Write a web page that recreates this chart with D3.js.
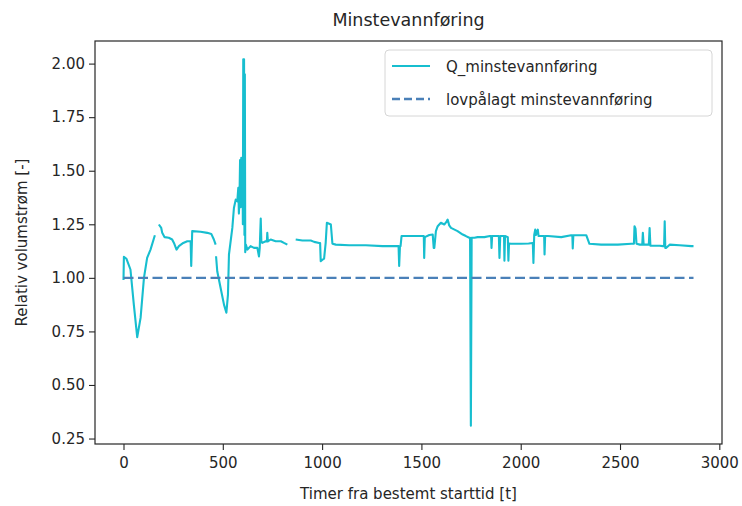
<!DOCTYPE html>
<html>
<head>
<meta charset="utf-8">
<script src="https://cdn.jsdelivr.net/npm/d3@7"></script>
<style>
  body { margin: 0; background: #fff; }
  svg { font-family: "DejaVu Sans", sans-serif; }
</style>
</head>
<body>
<svg id="chart" width="742" height="506"></svg>
<script>
// ---- data ----
const title = "Minstevannføring";
const xLabel = "Timer fra bestemt starttid [t]";
const yLabel = "Relativ volumstrøm [-]";
const seriesNames = ["Q_minstevannføring", "lovpålagt minstevannføring"];
const xTicks = [0, 500, 1000, 1500, 2000, 2500, 3000];
const yTicks = [0.25, 0.50, 0.75, 1.00, 1.25, 1.50, 1.75, 2.00];

// hours (null value = gap in the measured series)
const hours = [
  0, 2, 15, 35, 52, 69, 86, 103, 119, 136, 158, 168,
  178, 190, 195, 207, 228, 245, 254, 267, 279, 301, 321, 338, 341, 346, 388, 422, 442, 455, 464, 465,
  466, 472, 489, 506, 518, 526, 531, 548, 556, 565, 573, 578, 581, 584, 587, 590, 593, 596, 599, 601,
  603, 605, 607, 609, 611, 613, 616, 624, 640, 657, 674, 682, 686, 691, 694, 699, 716, 722, 724, 727,
  741, 766, 792, 808, 825, 846,
  867, 901, 943, 960, 985, 990, 993, 1002, 1010, 1018, 1024, 1044, 1052, 1069, 1136, 1220, 1304, 1371,
  1385, 1388, 1392, 1395, 1400, 1447, 1498, 1512, 1514, 1517, 1540, 1557, 1562, 1565, 1573, 1582, 1598,
  1615, 1625, 1632, 1640, 1649, 1682, 1708, 1724, 1741, 1745, 1749, 1753, 1767, 1783, 1817, 1845, 1851,
  1853, 1856, 1884, 1890, 1893, 1897, 1910, 1916, 1918, 1921, 1935, 1938, 1941, 1951, 2002, 2040, 2061,
  2064, 2068, 2073, 2077, 2086, 2090, 2103, 2118, 2120, 2123, 2137, 2204, 2254, 2260, 2262, 2265, 2330,
  2346, 2405, 2489, 2557, 2570, 2573, 2578, 2583, 2600, 2612, 2615, 2619, 2630, 2645, 2649, 2653, 2700,
  2716, 2722, 2725, 2728, 2733, 2750, 2800, 2859, 2870
];
const qValues = [
  0.99, 1.098, 1.089, 1.039, 0.875, 0.723, 0.813, 1.0, 1.093, 1.132, 1.199, null,
  1.249, 1.233, 1.21, 1.19, 1.187, 1.179, 1.163, 1.132, 1.148, 1.163, 1.171, 1.171, 1.055, 1.218, 1.215, 1.21, 1.205, 1.179, 1.155, null,
  1.101, 1.031, 0.953, 0.875, 0.837, 0.922, 1.109, 1.233, 1.326, 1.365, 1.357, 1.42, 1.30, 1.37, 1.55, 1.33, 1.56, 1.38, 1.55, 1.25,
  2.02, 1.50, 2.02, 1.20, 1.95, 1.12, 1.155, 1.132, 1.148, 1.14, 1.14, 1.10, 1.14, 1.277, 1.17, 1.163, 1.171, 1.17, 1.21, 1.17,
  1.179, 1.171, 1.171, 1.163, 1.155, null,
  1.179, 1.174, 1.174, 1.168, 1.163, 1.163, 1.078, 1.085, 1.09, 1.163, 1.257, 1.249, 1.159, 1.155, 1.152, 1.152, 1.148, 1.148,
  1.148, 1.055, 1.148, 1.148, 1.195, 1.195, 1.195, 1.195, 1.093, 1.19, 1.2, 1.202, 1.14, 1.14, 1.218, 1.241, 1.257,
  1.249, 1.26, 1.272, 1.245, 1.233, 1.218, 1.202, 1.195, 1.187, 1.187, 0.31, 1.187, 1.187, 1.19, 1.19, 1.195, 1.195,
  1.14, 1.195, 1.195, 1.195, 1.093, 1.195, 1.195, 1.195, 1.08, 1.195, 1.19, 1.08, 1.16, 1.159, 1.159, 1.16, 1.163,
  1.07, 1.20, 1.225, 1.2, 1.225, 1.195, 1.195, 1.195, 1.109, 1.195, 1.195, 1.19, 1.199, 1.199, 1.137, 1.199, 1.199,
  1.159, 1.155, 1.155, 1.159, 1.159, 1.241, 1.23, 1.159, 1.155, 1.155, 1.21, 1.155, 1.155, 1.155, 1.233, 1.15, 1.15,
  1.148, 1.148, 1.264, 1.14, 1.14, 1.155, 1.152, 1.148, 1.148
];
const requiredHours = [0, 2870];
const requiredValues = [1.0, 1.0];

// ---- layout ----
const svg = d3.select("#chart");
const margin = { left: 95, right: 20, top: 41, bottom: 62 };
const W = 742, H = 506;
const plotW = W - margin.left - margin.right;
const plotH = H - margin.top - margin.bottom;

const allX = hours.concat(requiredHours);
const allY = qValues.filter(v => v != null).concat(requiredValues);
const [xmin, xmax] = d3.extent(allX);
const [ymin, ymax] = d3.extent(allY);
const xpad = (xmax - xmin) * 0.05, ypad = (ymax - ymin) * 0.05;

const x = d3.scaleLinear().domain([xmin - xpad, xmax + xpad]).range([margin.left, margin.left + plotW]);
const y = d3.scaleLinear().domain([ymin - ypad, ymax + ypad]).range([margin.top + plotH, margin.top]);

const qData = hours.map((h, i) => ({ h, v: qValues[i] }));
const reqData = requiredHours.map((h, i) => ({ h, v: requiredValues[i] }));

svg.append("clipPath").attr("id", "clip")
  .append("rect").attr("x", margin.left).attr("y", margin.top).attr("width", plotW).attr("height", plotH);

const g = svg.append("g").attr("clip-path", "url(#clip)");

const line = d3.line().defined(d => d.v != null).x(d => x(d.h)).y(d => y(d.v));

g.append("path").datum(qData)
  .attr("d", line)
  .attr("fill", "none")
  .attr("stroke", "#17becf")
  .attr("stroke-width", 2.1)
  .attr("stroke-linejoin", "round");

g.append("path").datum(reqData)
  .attr("d", line)
  .attr("fill", "none")
  .attr("stroke", "#4a80b8")
  .attr("stroke-width", 2.4)
  .attr("stroke-dasharray", "10,4.5");

// axes
const xAxis = d3.axisBottom(x).tickValues(xTicks).tickFormat(d3.format("d")).tickSize(6).tickPadding(7);
const yAxis = d3.axisLeft(y).tickValues(yTicks).tickFormat(d3.format(".2f")).tickSize(6).tickPadding(4);

const gx = svg.append("g").attr("transform", `translate(0,${margin.top + plotH})`).call(xAxis);
const gy = svg.append("g").attr("transform", `translate(${margin.left},0)`).call(yAxis);
[gx, gy].forEach(a => {
  a.select(".domain").remove();
  a.selectAll("text").attr("font-size", 15).attr("fill", "#262626").attr("font-family", "DejaVu Sans, sans-serif");
  a.selectAll("line").attr("stroke", "#262626").attr("stroke-width", 1.1);
});

// frame
svg.append("rect")
  .attr("x", margin.left).attr("y", margin.top)
  .attr("width", plotW).attr("height", plotH)
  .attr("fill", "none").attr("stroke", "#262626").attr("stroke-width", 1.2);

// title and labels
svg.append("text").attr("x", margin.left + plotW / 2).attr("y", 26)
  .attr("text-anchor", "middle").attr("font-size", 17.5).attr("fill", "#262626").text(title);
svg.append("text").attr("x", margin.left + plotW / 2).attr("y", 499)
  .attr("text-anchor", "middle").attr("font-size", 15).attr("fill", "#262626").text(xLabel);
svg.append("text")
  .attr("transform", `translate(27,${margin.top + plotH / 2}) rotate(-90)`)
  .attr("text-anchor", "middle").attr("font-size", 15).attr("fill", "#262626").text(yLabel);

// legend
const lg = svg.append("g");
lg.append("rect").attr("x", 385).attr("y", 50).attr("width", 327).attr("height", 66)
  .attr("rx", 4).attr("fill", "#fff").attr("fill-opacity", 0.8)
  .attr("stroke", "#d6d6d6").attr("stroke-width", 1);
const legendItems = [
  { name: seriesNames[0], color: "#17becf", dash: null, w: 2.1 },
  { name: seriesNames[1], color: "#4a80b8", dash: "8,4", w: 2.4 }
];
legendItems.forEach((it, i) => {
  const cy = 66 + i * 33;
  const l = lg.append("line").attr("x1", 392).attr("x2", 430).attr("y1", cy).attr("y2", cy)
    .attr("stroke", it.color).attr("stroke-width", it.w);
  if (it.dash) l.attr("stroke-dasharray", it.dash);
  lg.append("text").attr("x", 446).attr("y", cy + 5.5).attr("font-size", 15).attr("fill", "#262626").text(it.name);
});
</script>
</body>
</html>
